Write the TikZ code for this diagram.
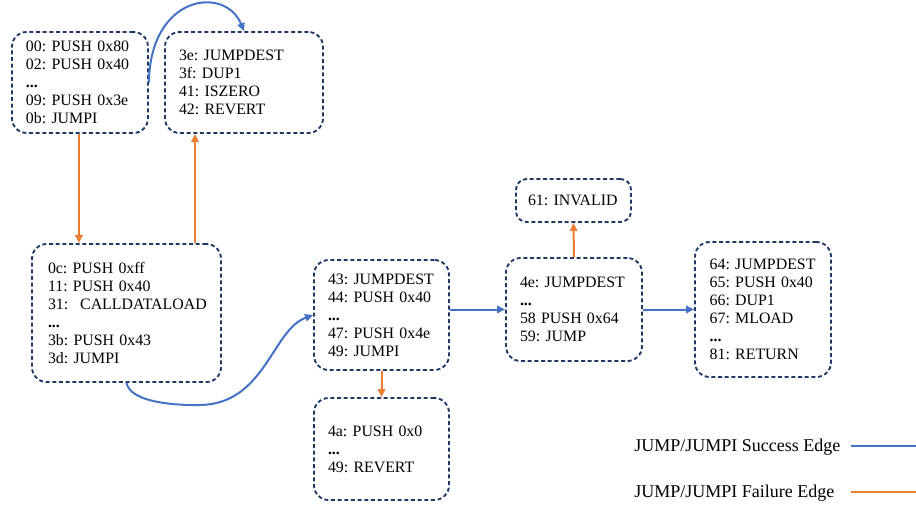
\documentclass[tikz,border=0pt]{standalone}
\usepackage{fontspec}
\setmainfont{Liberation Serif}
\usetikzlibrary{arrows.meta}
\definecolor{boxc}{HTML}{1F3864}
\definecolor{succ}{HTML}{4472C4}
\definecolor{fail}{HTML}{ED7D31}
\frenchspacing
\hyphenpenalty=10000
\begin{document}
\begin{tikzpicture}[x=0.75pt,y=-0.75pt,
  blk/.style={draw=boxc, line width=1.4pt, dash pattern=on 3pt off 2pt,
    rounded corners=11pt, align=left, inner ysep=0pt,
    font=\fontsize{11.9}{13.5}\selectfont\frenchspacing},
  sedge/.style={draw=succ, line width=1.5pt, -{Triangle[length=6pt,width=5.5pt]}},
  fedge/.style={draw=fail, line width=1.5pt, -{Triangle[length=6pt,width=5.5pt]}},
  leg/.style={font=\fontsize{13.5}{16}\selectfont, anchor=base west, inner sep=0pt}]
\useasboundingbox (0,0) rectangle (916,504);
% boxes
\node[blk, minimum width=102pt, minimum height=75.75pt, inner xsep=10.5pt, text width=81pt] (b1) at (80,82.5)
  {00: PUSH 0x80\\02: PUSH 0x40\\\textbf{...}\\09: PUSH 0x3e\\0b: JUMPI};
\node[blk, minimum width=118.5pt, minimum height=75.75pt, inner xsep=10.5pt, text width=97.5pt] (b2) at (244,82.5)
  {3e: JUMPDEST\\3f: DUP1\\41: ISZERO\\42: REVERT};
\node[blk, minimum width=141.75pt, minimum height=103.5pt, inner xsep=12pt, text width=117.75pt] (b3) at (126.5,313)
  {0c: PUSH 0xff\\11: PUSH 0x40\\\mbox{31:\hspace{0.75em}CALLDATALOAD}\\\textbf{...}\\3b: PUSH 0x43\\3d: JUMPI};
\node[blk, minimum width=101.25pt, minimum height=82.5pt, inner xsep=10.5pt, text width=80.25pt] (b4) at (381.5,315)
  {43: JUMPDEST\\44: PUSH 0x40\\\textbf{...}\\47: PUSH 0x4e\\49: JUMPI};
\node[blk, minimum width=101.25pt, minimum height=76.5pt, inner xsep=10.5pt, text width=80.25pt] (b5) at (381.5,449)
  {4a: PUSH 0x0\\\textbf{...}\\49: REVERT};
\node[blk, minimum width=102pt, minimum height=77.25pt, inner xsep=10.5pt, text width=81pt] (b6) at (574,309.5)
  {4e: JUMPDEST\\\textbf{...}\\58 PUSH 0x64\\59: JUMP};
\node[blk, minimum width=86.25pt, minimum height=32.25pt, inner xsep=9pt, text width=68.25pt, rounded corners=8pt] (b7) at (573.5,200.5)
  {61: INVALID};
\node[blk, minimum width=102pt, minimum height=101.25pt, inner xsep=11pt, text width=80pt] (b8) at (763,309.5)
  {64: JUMPDEST\\65: PUSH 0x40\\66: DUP1\\67: MLOAD\\\textbf{...}\\81: RETURN};
% edges
\draw[sedge] (b1.east) .. controls (150,-5) and (225,-15) .. (b2.north);
\draw[fedge] (b1.south -| 79,0) -- (b3.north -| 79,0);
\draw[fedge] (b3.north -| 195,0) -- (b2.south -| 195,0);
\draw[sedge] (b3.south) .. controls (130,400) and (165,405.5) .. (200,405)
  .. controls (265,404) and (272,330) .. (b4.west);
\draw[sedge] (b6.west -| b4.east) -- (b6.west);
\draw[fedge] (b4.south) -- (b5.north);
\draw[fedge] (b6.north) -- (b7.south);
\draw[sedge] (b6.east) -- (b8.west);
% legend
\node[leg] (l1) at (634,451) {JUMP/JUMPI Success Edge};
\node[leg] (l2) at (634,497) {JUMP/JUMPI Failure Edge};
\coordinate (s1) at (851,446);
\coordinate (s2) at (916,446);
\coordinate (f1) at (851,492);
\coordinate (f2) at (916,492);
\draw[succ, line width=1.5pt] (s1) -- (s2);
\draw[fail, line width=1.5pt] (f1) -- (f2);
\end{tikzpicture}
\end{document}
